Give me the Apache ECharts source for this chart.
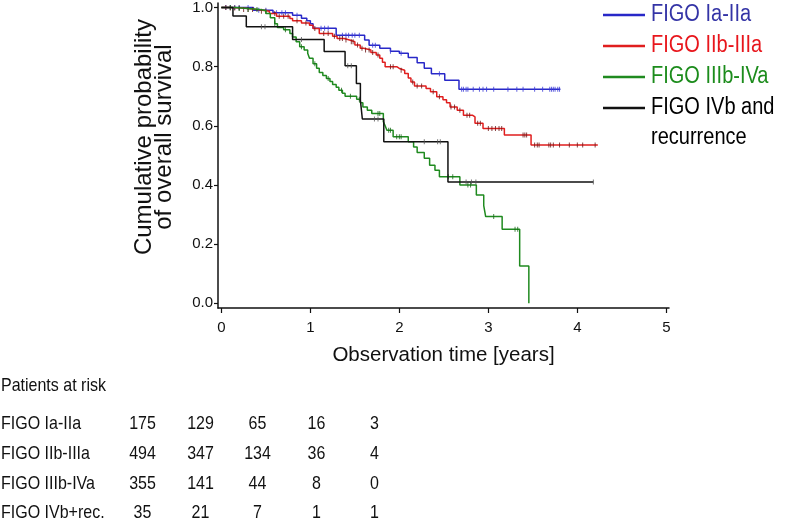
<!DOCTYPE html>
<html>
<head>
<meta charset="utf-8">
<script src="https://cdn.jsdelivr.net/npm/echarts@6/dist/echarts.min.js"></script>
<style>html,body{margin:0;padding:0;background:#fff;}#c{width:808px;height:521px;}</style>
</head>
<body>
<div id="c"></div>
<script>
// ---- Data ----
const seriesNames = ['FIGO Ia-IIa', 'FIGO IIb-IIIa', 'FIGO IIIb-IVa', 'FIGO IVb and recurrence'];
const legendLines = [['FIGO Ia-IIa'], ['FIGO IIb-IIIa'], ['FIGO IIIb-IVa'], ['FIGO IVb and', 'recurrence']];

const blueTime = [0,0.36,0.58,0.8,0.9,0.96,1.0,1.03,1.29,1.61,1.66,1.78,1.9,2.0,2.1,2.2,2.28,2.36,2.51,2.67,3.81];
const blueSurv = [1,0.991,0.982,0.974,0.964,0.955,0.945,0.93,0.906,0.89,0.872,0.862,0.852,0.845,0.831,0.813,0.795,0.776,0.754,0.724,0.724];

const redTime = [0,0.1,0.24,0.4,0.54,0.62,0.77,0.8,0.9,0.99,1.03,1.1,1.25,1.3,1.38,1.44,1.5,1.56,1.6,1.68,1.74,1.78,1.81,1.84,1.97,2.0,2.06,2.1,2.13,2.17,2.3,2.35,2.42,2.49,2.53,2.57,2.65,2.72,2.82,2.85,2.94,3.18,3.48,4.23];
const redSurv = [1,0.998,0.993,0.987,0.98,0.97,0.963,0.955,0.948,0.94,0.929,0.912,0.903,0.895,0.89,0.884,0.873,0.862,0.856,0.848,0.839,0.828,0.815,0.8,0.794,0.788,0.777,0.762,0.748,0.735,0.726,0.715,0.698,0.688,0.678,0.664,0.653,0.636,0.63,0.609,0.591,0.569,0.535,0.535];

const greenTime = [0,0.15,0.3,0.43,0.5,0.55,0.6,0.63,0.7,0.77,0.8,0.84,0.88,0.93,0.97,0.99,1.03,1.07,1.1,1.14,1.18,1.22,1.25,1.29,1.32,1.36,1.39,1.52,1.56,1.59,1.64,1.69,1.82,1.84,1.86,1.93,2.1,2.16,2.2,2.28,2.34,2.4,2.45,2.68,2.865,2.948,2.97,3.155,3.352,3.455];
const greenSurv = [1,0.997,0.993,0.99,0.98,0.965,0.945,0.932,0.925,0.912,0.9,0.884,0.867,0.856,0.845,0.828,0.81,0.795,0.78,0.77,0.76,0.75,0.74,0.73,0.72,0.71,0.7,0.69,0.678,0.664,0.653,0.642,0.614,0.6,0.585,0.563,0.546,0.528,0.51,0.49,0.467,0.45,0.428,0.4,0.366,0.33,0.293,0.25,0.126,0];

const blackTime = [0,0.13,0.28,0.8,1.155,1.39,1.517,1.562,1.584,1.825,2.546,4.18];
const blackSurv = [1,0.971,0.935,0.892,0.851,0.803,0.743,0.687,0.623,0.546,0.41,0.41];

// censoring times
const blueCensor = [0.05,0.1,0.15,0.2,0.3,0.42,0.5,0.62,0.68,0.72,0.85,1.12,1.16,1.2,1.36,1.4,1.43,1.47,1.5,1.55,1.7,1.73,1.9,2.02,2.45,2.7,2.72,2.75,2.77,2.83,2.9,2.94,2.98,3.06,3.22,3.32,3.39,3.52,3.61,3.69,3.71,3.73,3.75,3.78,3.8];
const redCensor = [0.05,0.1,0.15,0.2,0.25,0.3,0.35,0.45,0.5,0.6,0.65,0.7,0.75,0.85,0.95,1.05,1.15,1.2,1.27,1.33,1.36,1.4,1.46,1.48,1.53,1.58,1.62,1.66,1.7,1.76,1.9,1.93,2.02,2.15,2.2,2.25,2.38,2.45,2.58,2.62,2.68,2.76,2.79,2.88,2.91,3.0,3.04,3.08,3.12,3.15,3.39,3.41,3.43,3.52,3.55,3.57,3.68,3.7,3.73,3.8,3.91,4.0,4.06,4.2];
const greenCensor = [0.1,0.2,0.3,0.4,0.6,0.72,0.9,1.05,1.2,1.35,1.45,1.55,1.76,1.78,1.88,1.9,1.97,2.0,2.02,2.55,2.6,2.77,2.8,3.06,3.3,3.33];
const blackCensor = [0.45,0.49,0.9,1.42,1.46,1.72,1.76,2.28,2.43,2.46,2.75,2.81,2.86,4.18];

const xTicks = [0, 1, 2, 3, 4, 5];
const yTicks = [0, 0.2, 0.4, 0.6, 0.8, 1.0];

// patients at risk table
const riskTitle = 'Patients at risk';
const riskRowLabels = ['FIGO Ia-IIa', 'FIGO IIb-IIIa', 'FIGO IIIb-IVa', 'FIGO IVb+rec.'];
const riskIaIIa   = [175, 129, 65, 16, 3];
const riskIIbIIIa = [494, 347, 134, 36, 4];
const riskIIIbIVa = [355, 141, 44, 8, 0];
const riskIVbRec  = [35, 21, 7, 1, 1];

const axisXName = 'Observation time [years]';
const axisYName = 'Cumulative probability\nof overall survival';

// ---- Styles ----
const colors = ['#2828c8', '#e01e1e', '#1f8a1f', '#111111'];
const legendTextColors = ['#3434a6', '#e8161c', '#1c8c1c', '#000000'];
const censorColors = ['#3a3ad8', '#6a1414', '#186818', '#555555'];
const regular = "'Liberation Sans', Arial, sans-serif";

function pairs(t, s) { return t.map((v, i) => [v, s[i]]); }
function stepY(t, s, x) {
  let y = s[0];
  for (let i = 0; i < t.length; i++) { if (t[i] <= x) y = s[i]; else break; }
  return y;
}

const curves = [[blueTime, blueSurv], [redTime, redSurv], [greenTime, greenSurv], [blackTime, blackSurv]];
const censors = [blueCensor, redCensor, greenCensor, blackCensor];

const series = [];
curves.forEach((c, i) => {
  series.push({
    name: seriesNames[i], type: 'line', step: 'end', data: pairs(c[0], c[1]),
    showSymbol: false, symbol: 'none', lineStyle: { color: colors[i], width: 1.5 },
    itemStyle: { color: colors[i] }, z: 2 + i, animation: false, silent: true
  });
  series.push({
    name: seriesNames[i] + ' censored', type: 'scatter',
    data: censors[i].map(x => [x, stepY(c[0], c[1], x)]),
    symbol: 'rect', symbolSize: [1, 5], itemStyle: { color: censorColors[i] },
    z: 2 + i, animation: false, silent: true
  });
});

// ---- graphic: legend and at-risk table ----
const graphic = [];
const legendRowY = [15, 46, 77, 108, 138];
let row = 0;
legendLines.forEach((lines, i) => {
  graphic.push({ type: 'line', shape: { x1: 603, y1: legendRowY[row], x2: 645, y2: legendRowY[row] },
    style: { stroke: colors[i], lineWidth: 2.5 } });
  lines.forEach(txt => {
    graphic.push({ type: 'text', x: 651, y: legendRowY[row], scaleX: 0.87,
      style: { text: txt, fill: legendTextColors[i], font: '23px ' + regular, align: 'left', verticalAlign: 'middle' } });
    row++;
  });
});

const tableFont = '18.5px ' + regular;
const tableScale = 0.865;
graphic.push({ type: 'text', x: 1, y: 386, scaleX: tableScale,
  style: { text: riskTitle, fill: '#111', font: tableFont, align: 'left', verticalAlign: 'middle' } });
const riskRows = [riskIaIIa, riskIIbIIIa, riskIIIbIVa, riskIVbRec];
const rowY = [424, 454, 484, 513];
const colX = [142.5, 200.5, 257.5, 316.5, 374.5];
riskRows.forEach((vals, r) => {
  graphic.push({ type: 'text', x: 1, y: rowY[r], scaleX: tableScale,
    style: { text: riskRowLabels[r], fill: '#111', font: tableFont, align: 'left', verticalAlign: 'middle' } });
  vals.forEach((v, c) => {
    graphic.push({ type: 'text', x: colX[c], y: rowY[r], scaleX: tableScale,
      style: { text: String(v), fill: '#111', font: tableFont, align: 'center', verticalAlign: 'middle' } });
  });
});

const chart = echarts.init(document.getElementById('c'), null, { renderer: 'canvas' });
chart.setOption({
  animation: false,
  backgroundColor: '#ffffff',
  grid: { left: 218, top: 3, width: 451, height: 305, containLabel: false },
  xAxis: {
    type: 'value', min: -0.038, max: 5.03,
    name: axisXName, nameLocation: 'middle', nameGap: 37,
    nameTextStyle: { color: '#111', fontSize: 20.5, fontFamily: regular },
    axisLine: { show: true, onZero: false, lineStyle: { color: '#111', width: 1.5 } },
    axisTick: { show: true, length: 5, customValues: xTicks, lineStyle: { color: '#111', width: 1.2 } },
    axisLabel: { customValues: xTicks, fontSize: 15, fontFamily: regular, color: '#111', margin: 12 },
    splitLine: { show: false }
  },
  yAxis: {
    type: 'value', min: -0.016, max: 1.015,
    name: axisYName, nameLocation: 'middle', nameGap: 44,
    nameTextStyle: { color: '#111', fontSize: 24, fontFamily: regular, lineHeight: 20, padding: [0, 0, 0, 37] },
    axisLine: { show: true, onZero: false, lineStyle: { color: '#111', width: 1.5 } },
    axisTick: { show: true, length: 4, customValues: yTicks, lineStyle: { color: '#111', width: 1.2 } },
    axisLabel: { customValues: yTicks, fontSize: 15, fontFamily: regular, color: '#111', margin: 5,
      formatter: v => v.toFixed(1) },
    splitLine: { show: false }
  },
  series: series,
  graphic: graphic
});
</script>
</body>
</html>
